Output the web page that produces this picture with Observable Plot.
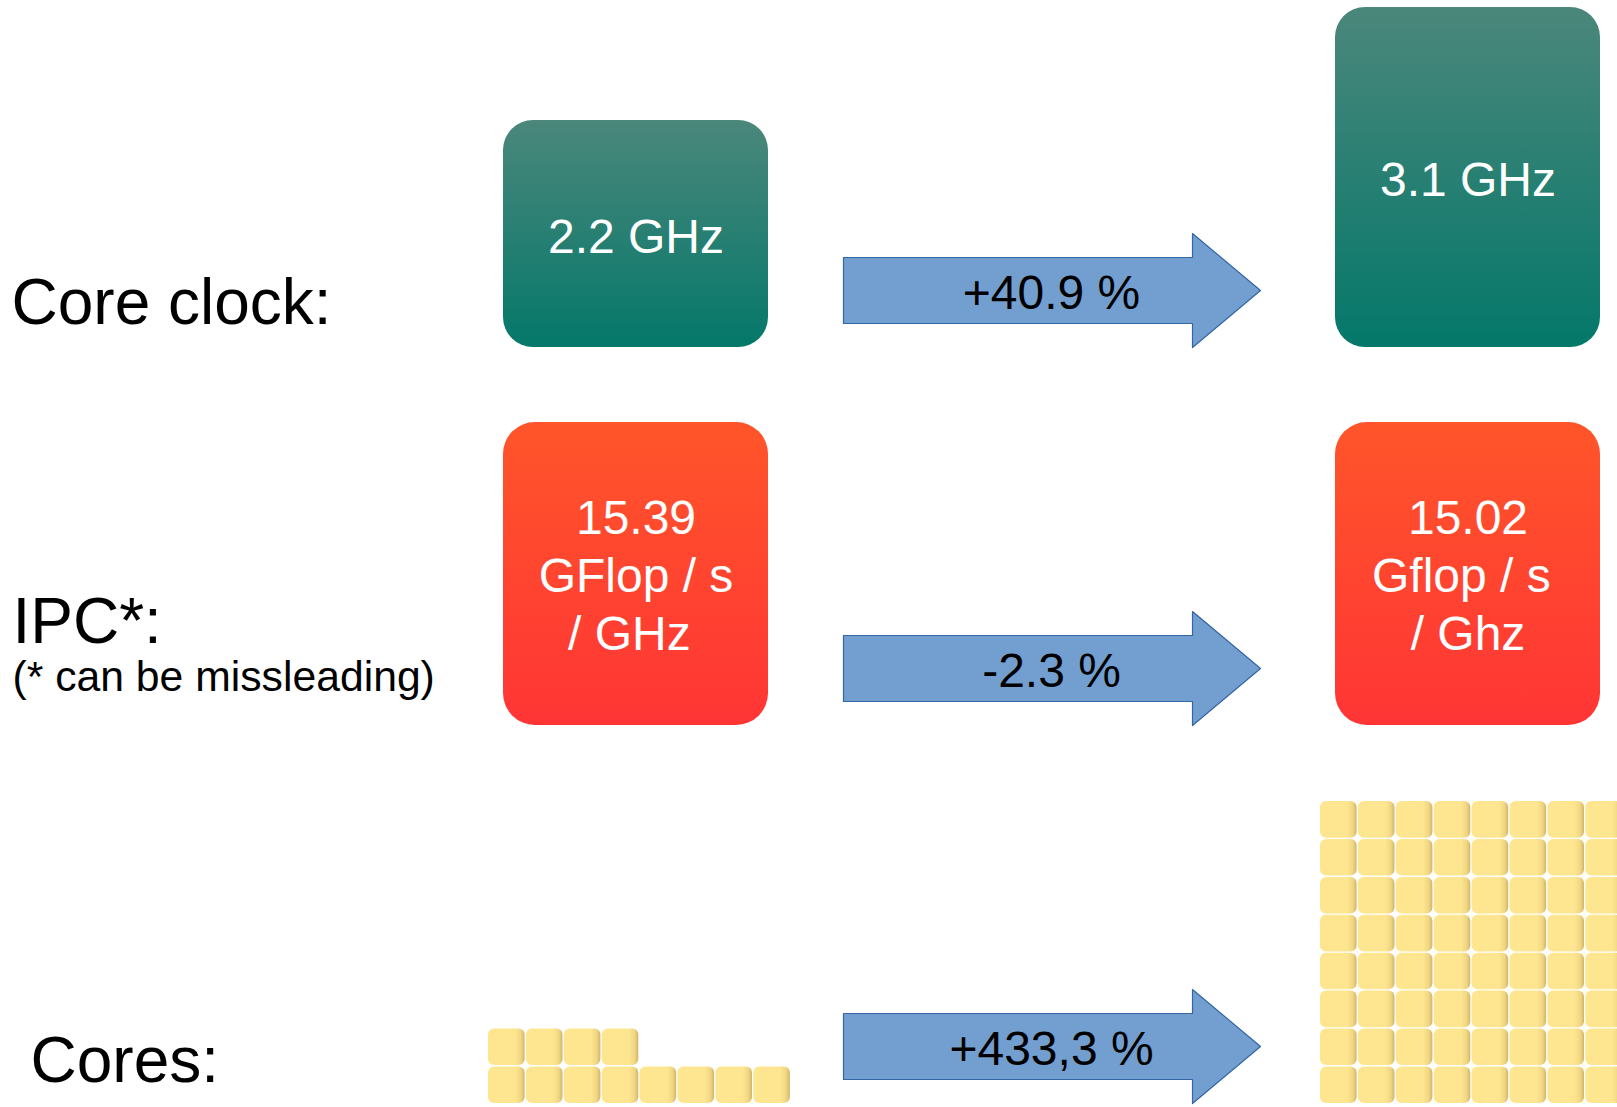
<!DOCTYPE html>
<html><head><meta charset="utf-8">
<script src="https://cdn.jsdelivr.net/npm/d3@7"></script>
<script src="https://cdn.jsdelivr.net/npm/@observablehq/plot@0.6"></script>
<style>html,body{margin:0;padding:0;background:#fff;overflow:hidden} svg{display:block}</style>
</head><body><div id="chart"></div>
<script>
// ---------- DATA ----------
const metrics = ["Core clock:", "IPC*:", "Cores:"];
const metricNotes = ["", "(* can be missleading)", ""];
const clockLabels = ["2.2 GHz", "3.1 GHz"];
const ipcLabels = ["15.39\nGFlop / s\n/ GHz\u00a0", "15.02\nGflop / s\u00a0\n/ Ghz"];
const changes = ["+40.9 %", "-2.3 %", "+433,3 %"];
const coreCounts = [12, 64];

// ---------- LAYOUT ----------
const W = 1617, H = 1107;
const cols = [[503, 768], [1335, 1600]];
const clockTops = [120, 7], clockBottom = 347, clockTextY = [237, 180];
const ipcTop = 422, ipcBottom = 725, ipcTextY = 573;
const arrowX = {left: 843, headBase: 1192, tip: 1260, text: 1051};
const arrowCenters = [290, 668, 1046], shaftHalf = 33, headHalf = 57, arrowTextDy = 3;
const labelPos = [{x: 11, y: 323}, {x: 12, y: 642}, {x: 30, y: 1081}];
const noteX = 12, noteY = 690;
const tileOrigin = [488, 1320], tileBottom = 1103, tilePitch = 37.9, tileSize = 36.6, perRow = 8;

const clockBoxes = clockLabels.map((label, i) => ({
  x1: cols[i][0], x2: cols[i][1], y1: clockTops[i], y2: clockBottom,
  cx: (cols[i][0] + cols[i][1]) / 2, ty: clockTextY[i], label
}));
const ipcBoxes = ipcLabels.map((label, i) => ({
  x1: cols[i][0], x2: cols[i][1], y1: ipcTop, y2: ipcBottom,
  cx: (cols[i][0] + cols[i][1]) / 2, ty: ipcTextY, label
}));
const arrowPts = changes.flatMap((c, i) => {
  const cy = arrowCenters[i];
  return [
    [arrowX.left, cy - shaftHalf], [arrowX.headBase, cy - shaftHalf], [arrowX.headBase, cy - headHalf],
    [arrowX.tip, cy], [arrowX.headBase, cy + headHalf], [arrowX.headBase, cy + shaftHalf],
    [arrowX.left, cy + shaftHalf]
  ].map(([x, y]) => ({id: i, x, y}));
});
const arrowTexts = changes.map((t, i) => ({t, x: arrowX.text, y: arrowCenters[i] + arrowTextDy}));
const tiles = coreCounts.flatMap((n, g) => d3.range(n).map(k => {
  const col = k % perRow, row = Math.floor(k / perRow);
  const x1 = tileOrigin[g] + col * tilePitch;
  const y2 = tileBottom - row * tilePitch;
  return {x1, x2: x1 + tileSize, y1: y2 - tileSize, y2};
}));
const labels = metrics.map((m, i) => ({t: m, ...labelPos[i]}));
const notes = metricNotes.map((t) => ({t, x: noteX, y: noteY})).filter(d => d.t);

const font = "'Liberation Sans', Arial, Helvetica, sans-serif";
const svg = Plot.plot({
  width: W, height: H, margin: 0,
  x: {type: "identity", axis: null},
  y: {type: "identity", axis: null},
  style: {fontFamily: font, background: "white", overflow: "hidden"},
  marks: [
    Plot.rect(clockBoxes, {x1: "x1", x2: "x2", y1: "y1", y2: "y2", rx: 30, fill: "url(#gGreen)", ariaLabel: "clock-boxes"}),
    Plot.text(clockBoxes, {x: "cx", y: "ty", text: "label", fill: "white", fontSize: 48, lineAnchor: "middle"}),
    Plot.rect(ipcBoxes, {x1: "x1", x2: "x2", y1: "y1", y2: "y2", rx: 32, fill: "url(#gRed)", ariaLabel: "ipc-boxes"}),
    Plot.text(ipcBoxes, {x: "cx", y: "ty", text: "label", fill: "white", fontSize: 48, lineHeight: 1.2, lineAnchor: "middle"}),
    Plot.line(arrowPts, {x: "x", y: "y", z: "id", fill: "#729fcf", stroke: "#3465a4", strokeWidth: 1.2, curve: "linear-closed"}),
    Plot.text(arrowTexts, {x: "x", y: "y", text: "t", fill: "black", fontSize: 48, lineAnchor: "middle"}),
    Plot.rect(tiles, {x1: "x1", x2: "x2", y1: "y1", y2: "y2", rx: 6, fill: "url(#gTile)", ariaLabel: "core-tiles"}),
    Plot.text(labels, {x: "x", y: "y", text: "t", fill: "black", fontSize: 64, textAnchor: "start", lineAnchor: "bottom"}),
    Plot.text(notes, {x: "x", y: "y", text: "t", fill: "black", fontSize: 42.7, textAnchor: "start", lineAnchor: "bottom"})
  ]
});

const defs = d3.select(svg).insert("defs", ":first-child");
function vgrad(id, top, bottom) {
  const g = defs.append("linearGradient").attr("id", id).attr("x1", 0).attr("y1", 0).attr("x2", 0).attr("y2", 1);
  g.append("stop").attr("offset", 0).attr("stop-color", top);
  g.append("stop").attr("offset", 1).attr("stop-color", bottom);
}
vgrad("gGreen", "#4b877b", "#04786a");
vgrad("gRed", "#ff552a", "#ff3535");
const tg = defs.append("linearGradient").attr("id", "gTile").attr("x1", 0).attr("y1", 0).attr("x2", 1).attr("y2", 0);
[[0, "#fee690"], [0.74, "#fee690"], [0.9, "#f0d683"], [1, "#cfb569"]].forEach(([o, c]) => tg.append("stop").attr("offset", o).attr("stop-color", c));
function shadow(id, dx, dy, sd, op) {
  const f = defs.append("filter").attr("id", id).attr("x", "-20%").attr("y", "-20%").attr("width", "140%").attr("height", "140%");
  f.append("feDropShadow").attr("dx", dx).attr("dy", dy).attr("stdDeviation", sd).attr("flood-color", "#000").attr("flood-opacity", op);
}
shadow("fBox", 1, 3, 3.5, 0.4);
shadow("fTile", 1.5, 2, 1.8, 0.55);
d3.select(svg).selectAll('g[aria-label="clock-boxes"], g[aria-label="ipc-boxes"]').attr("filter", "url(#fBox)");
d3.select(svg).selectAll('g[aria-label="core-tiles"]').attr("filter", "url(#fTile)");

document.getElementById("chart").append(svg);
</script></body></html>
